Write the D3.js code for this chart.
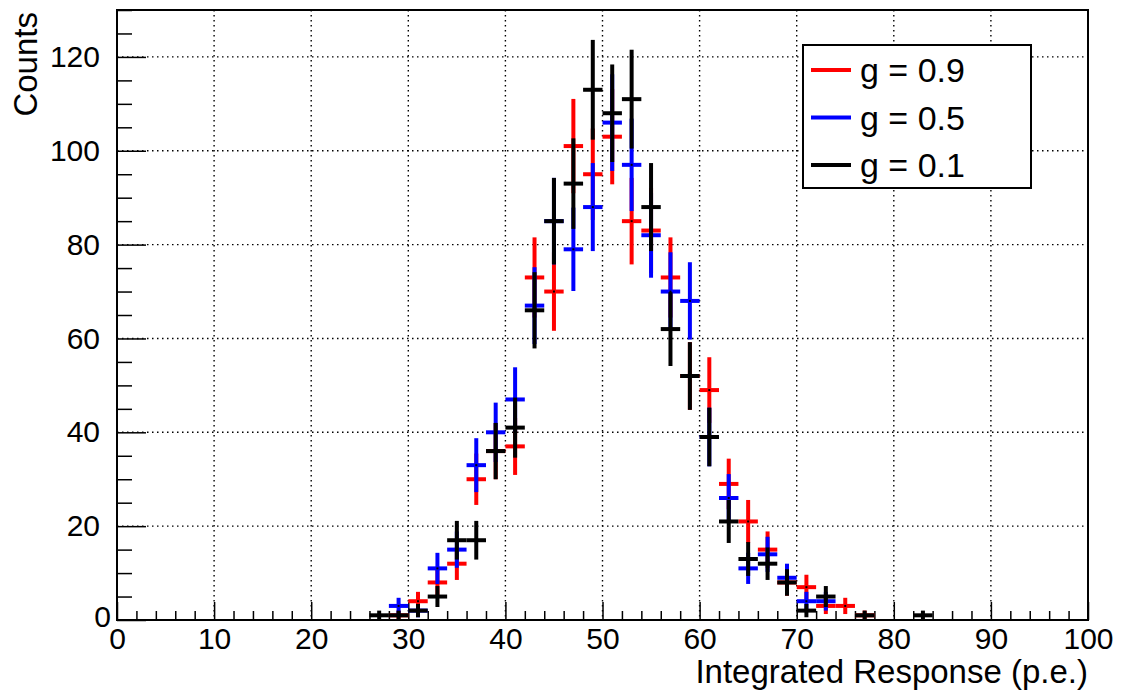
<!DOCTYPE html>
<html>
<head>
<meta charset="utf-8">
<script src="https://cdn.jsdelivr.net/npm/d3@7"></script>
<style>
  body { margin: 0; background: #fff; }
  svg text { font-family: "Liberation Sans", Arial, Helvetica, sans-serif; fill: #000; }
</style>
</head>
<body>
<div id="chart"></div>
<script>
// bin centers, bin width 2 p.e.
const binCenters = [27, 29, 31, 33, 35, 37, 39, 41, 43, 45, 47, 49, 51, 53, 55,
                    57, 59, 61, 63, 65, 67, 69, 71, 73, 75, 77, 79, 81, 83];
const binWidth = 2;

const countsG09 = [0, 1, 4, 8, 12, 30, 36, 37, 73, 70, 101, 95, 103, 85, 83,
                   73, 52, 49, 29, 21, 15, 8, 7, 3, 3, 1, 0, 0, 0];
const countsG05 = [0, 3, 2, 11, 15, 33, 40, 47, 67, 85, 79, 88, 106, 97, 82,
                   70, 68, 39, 26, 11, 14, 9, 4, 4, 0, 0, 0, 0, 0];
const countsG01 = [1, 1, 2, 5, 17, 17, 36, 41, 66, 85, 93, 113, 108, 111, 88,
                   62, 52, 39, 21, 13, 12, 8, 2, 5, 0, 1, 0, 0, 1];

const seriesNames = ["g = 0.9", "g = 0.5", "g = 0.1"];
const seriesColors = ["#ff0000", "#0000ff", "#000000"];
const seriesCounts = [countsG09, countsG05, countsG01];

const xTicks = [0, 10, 20, 30, 40, 50, 60, 70, 80, 90, 100];
const yTicks = [0, 20, 40, 60, 80, 100, 120];

function drawChart() {
    let totalWidth = 1125;
    let totalHeight = 696;
    let marginLeft = 117;
    let marginTop = 10;
    let width = 971;
    let height = 610;

    let svg = d3.select("#chart")
        .append("svg")
        .attr("width", totalWidth)
        .attr("height", totalHeight)
        .append("g")
        .attr("transform", "translate(" + marginLeft + "," + marginTop + ")");

    let xScale = d3.scaleLinear().domain([0, 100]).range([0, width]);
    let yScale = d3.scaleLinear().domain([0, 130]).range([height, 0]);

    // grid (dotted, at major ticks)
    svg.append("g").selectAll("line")
        .data(xTicks.slice(1, -1))
        .enter().append("line")
        .attr("x1", d => xScale(d)).attr("x2", d => xScale(d))
        .attr("y1", 0).attr("y2", height)
        .style("stroke", "#000").style("stroke-width", 1.4)
        .style("stroke-dasharray", "1.5,3.5");
    svg.append("g").selectAll("line")
        .data(yTicks.slice(1))
        .enter().append("line")
        .attr("y1", d => yScale(d)).attr("y2", d => yScale(d))
        .attr("x1", 0).attr("x2", width)
        .style("stroke", "#000").style("stroke-width", 1.4)
        .style("stroke-dasharray", "1.5,3.5");

    // minor ticks
    let xMinor = d3.range(0, 101, 2).filter(d => d % 10 !== 0);
    let yMinor = d3.range(0, 131, 5).filter(d => d % 20 !== 0);

    let xMinorAxis = svg.append("g")
        .attr("transform", "translate(0," + height + ")")
        .call(d3.axisBottom(xScale).tickValues(xMinor).tickSize(-9).tickFormat(""));
    xMinorAxis.select(".domain").remove();

    let yMinorAxis = svg.append("g")
        .call(d3.axisLeft(yScale).tickValues(yMinor).tickSize(-15).tickFormat(""));
    yMinorAxis.select(".domain").remove();

    // major ticks + labels
    let xAxis = svg.append("g")
        .attr("transform", "translate(0," + height + ")")
        .call(d3.axisBottom(xScale).tickValues(xTicks).tickSize(-18).tickPadding(8).tickFormat(d3.format("d")));
    xAxis.select(".domain").remove();
    xAxis.selectAll("text").style("font-size", "30px");

    let yAxis = svg.append("g")
        .call(d3.axisLeft(yScale).tickValues(yTicks).tickSize(-29).tickPadding(17).tickFormat(d3.format("d")));
    yAxis.select(".domain").remove();
    yAxis.selectAll("text").style("font-size", "30px");
    // ROOT pushes the "0" label a bit toward the axis corner
    yAxis.selectAll("text").filter(d => d === 0).attr("x", -6).attr("dy", "0.2em");

    svg.selectAll(".tick line").style("stroke", "#000").style("stroke-width", 1.5);

    // error-bar crosses, one group per series
    seriesCounts.forEach(function(counts, i) {
        let pts = binCenters.map((c, j) => ({x: c, n: counts[j]})).filter(d => d.n > 0);
        let g = svg.append("g");
        g.selectAll(".hbar").data(pts).enter().append("line")
            .attr("x1", d => xScale(d.x - binWidth / 2))
            .attr("x2", d => xScale(d.x + binWidth / 2))
            .attr("y1", d => yScale(d.n))
            .attr("y2", d => yScale(d.n))
            .style("stroke", seriesColors[i]).style("stroke-width", 4);
        g.selectAll(".vbar").data(pts).enter().append("line")
            .attr("x1", d => xScale(d.x))
            .attr("x2", d => xScale(d.x))
            .attr("y1", d => yScale(d.n - Math.sqrt(d.n)))
            .attr("y2", d => yScale(d.n + Math.sqrt(d.n)))
            .style("stroke", seriesColors[i]).style("stroke-width", 4);
        g.selectAll(".dot").data(pts).enter().append("rect")
            .attr("x", d => xScale(d.x) - 1)
            .attr("y", d => yScale(d.n) - 1)
            .attr("width", 2).attr("height", 2)
            .style("fill", "#000");
    });

    // frame
    svg.append("rect")
        .attr("x", 0).attr("y", 0)
        .attr("width", width).attr("height", height)
        .style("fill", "none").style("stroke", "#000").style("stroke-width", 2);

    // axis titles
    svg.append("text")
        .attr("text-anchor", "end")
        .attr("x", width)
        .attr("y", height + 63)
        .style("font-size", "33px")
        .text("Integrated Response (p.e.)");

    svg.append("text")
        .attr("text-anchor", "end")
        .attr("transform", "rotate(-90)")
        .attr("x", -2)
        .attr("y", -80)
        .style("font-size", "33px")
        .text("Counts");

    // legend
    let legend = svg.append("g").attr("transform", "translate(" + (803 - marginLeft) + "," + (45 - marginTop) + ")");
    legend.append("rect")
        .attr("width", 228).attr("height", 143)
        .style("fill", "#fff").style("stroke", "#000").style("stroke-width", 2);
    seriesNames.forEach(function(name, i) {
        let yy = 25 + i * 47.5;
        legend.append("line")
            .attr("x1", 8).attr("x2", 48)
            .attr("y1", yy).attr("y2", yy)
            .style("stroke", seriesColors[i]).style("stroke-width", 4);
        legend.append("text")
            .attr("x", 57).attr("y", yy)
            .attr("dy", "0.36em")
            .style("font-size", "34px")
            .text(name);
    });
}

window.onload = () => {
    drawChart();
};
</script>
</body>
</html>
